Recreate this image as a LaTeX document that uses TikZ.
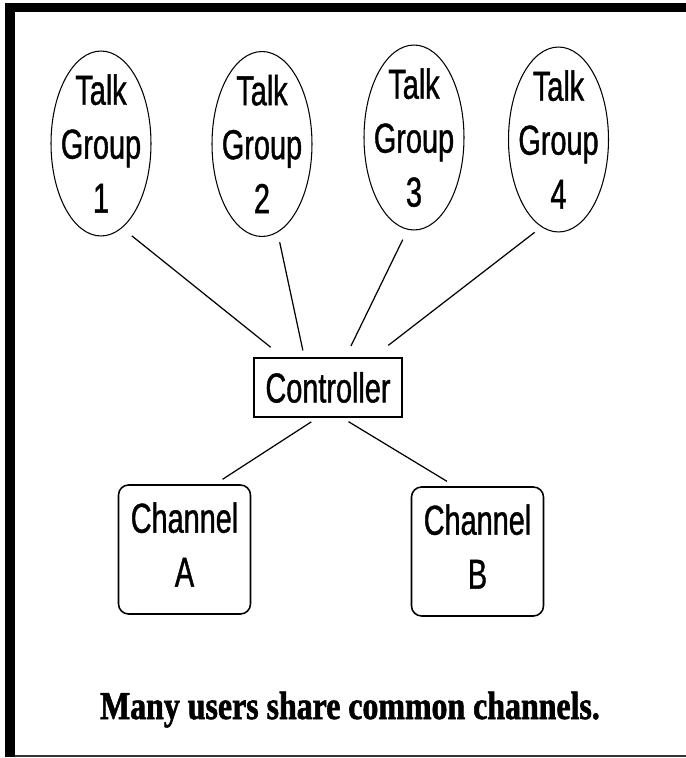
\documentclass[tikz,border=0pt]{standalone}
\usepackage{fontspec}
\usepackage{tikz}
\usetikzlibrary{positioning,shapes.geometric,arrows.meta}
\newfontfamily\nodefont[FakeStretch=0.69,FakeBold=1]{Liberation Sans}
\newfontfamily\capfont[FakeStretch=0.81,FakeBold=1.5]{Liberation Serif}
\tikzstyle{link_edge}=[-, draw=black, line width=0.7pt]
\tikzstyle{talk_group}=[ellipse, draw=black, line width=0.6pt, inner sep=-0.2cm, minimum width=2cm, minimum height=3.7cm, align=center, text depth=-0.2cm, font=\nodefont\fontsize{23.8pt}{30.7pt}\selectfont]
\tikzstyle{ctrl_box}=[rectangle, draw=black, line width=0.9pt, minimum width=2.96cm, minimum height=1.18cm, inner sep=1pt, font=\nodefont\fontsize{23.8pt}{30.7pt}\selectfont]
\tikzstyle{channel_box}=[rectangle, rounded corners=0.2cm, draw=black, line width=0.9pt, minimum width=2.64cm, minimum height=2.58cm, inner sep=1pt, align=center, text depth=0.2cm, font=\nodefont\fontsize{23.8pt}{30.7pt}\selectfont]

\begin{document}
\begin{tikzpicture}[x=0.02cm, y=-0.02cm]
        \useasboundingbox (0,0) rectangle (686,758);
        % frame
        \fill[black] (5,3) rectangle (686,11.5);
        \fill[black] (5,3) rectangle (14.5,757);
        \draw[line width=0.6pt, black!80] (14.5,756) -- (686,756);
        \node [style={talk_group}] (0) at (101, 143.5) {Talk\\Group\\1};
        \node [style={talk_group}] (1) at (262, 144) {Talk\\Group\\2};
        \node [style={talk_group}] (2) at (414, 137.5) {Talk\\Group\\3};
        \node [style={talk_group}] (3) at (558.5, 139.5) {Talk\\Group\\4};
        \node [style={ctrl_box}] (4) at (328, 387.5) {Controller};
        \node [style={channel_box}] (5) at (184.5, 549.5) {Channel\\A};
        \node [style={channel_box}] (6) at (477.5, 551.5) {Channel\\B};
        \node [anchor=base, font=\capfont\bfseries\fontsize{22.4pt}{27pt}\selectfont] (7) at (350, 719) {Many users share common channels.};
        \draw[style={link_edge}, shorten <=0.25cm, shorten >=0.32cm]{} (0.-76) to (4.146);
        \draw[style={link_edge}, shorten <=0.2cm, shorten >=0.14cm]{} (1.-80) to (4.128);
        \draw[style={link_edge}, shorten <=0.22cm, shorten >=0.25cm]{} (2.-94) to (4.60);
        \draw[style={link_edge}, shorten <=0.17cm, shorten >=0.39cm]{} (3.-101) to (4.34);
        \draw[style={link_edge}, shorten <=0.15cm, shorten >=0.18cm]{} (4.-109) to (5.65);
        \draw[style={link_edge}, shorten <=0.15cm, shorten >=0.19cm]{} (4.-65) to (6.109);
    \end{tikzpicture}
\end{document}
